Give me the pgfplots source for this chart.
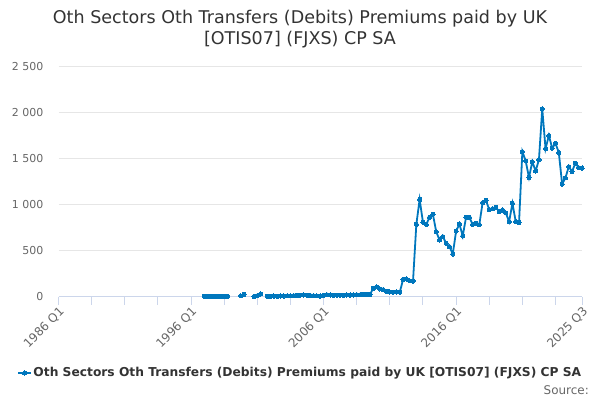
\documentclass[border=0pt]{standalone}
\usepackage{fontspec}
\setmainfont{DejaVu Sans}
\usepackage{pgfplots}
\pgfplotsset{compat=1.18}
\definecolor{series}{RGB}{0,119,189}
\definecolor{axiscol}{RGB}{204,214,235}
\definecolor{gridcol}{RGB}{230,230,230}
\definecolor{labcol}{RGB}{102,102,102}
\definecolor{titlecol}{RGB}{51,51,51}
\pgfplotstableread{
n v
44 8
45 6
46 7
47 6
48 8
49 7
50 6
51 8
52 nan
53 nan
54 nan
55 12
56 28
57 nan
58 nan
59 5
60 14
61 32
62 nan
63 8
64 9
65 10
66 8
67 10
68 11
69 12
70 12
71 15
72 18
73 20
74 22
75 20
76 16
77 14
78 12
79 10
80 18
81 25
82 22
83 18
84 20
85 19
86 20
87 22
88 21
89 22
90 25
91 24
92 28
93 30
94 26
95 95
96 110
97 88
98 80
99 60
100 55
101 52
102 55
103 52
104 190
105 195
106 175
107 174
108 790
109 1060
110 812
111 790
112 866
113 899
114 710
115 620
116 656
117 583
118 547
119 467
120 717
121 793
122 663
123 866
124 866
125 790
126 800
127 785
128 1025
129 1050
130 950
131 960
132 975
133 930
134 945
135 915
136 818
137 1018
138 820
139 810
140 1580
141 1480
142 1300
143 1470
144 1370
145 1490
146 2045
147 1612
148 1755
149 1618
150 1670
151 1570
152 1228
153 1295
154 1416
155 1365
156 1455
157 1405
158 1402
}\datatable
\begin{document}
\begin{tikzpicture}
\path[use as bounding box] (0bp,0bp) rectangle (600bp,400bp);
\begin{axis}[
  at={(58.5bp,103bp)}, anchor=south west,
  scale only axis, width=523.5bp, height=230bp,
  xmin=0, xmax=158, ymin=0, ymax=2500,
  axis x line*=bottom, axis y line*=left,
  x axis line style={draw=axiscol, line width=1bp, -},
  y axis line style={draw=none, -},
  xtick={0,40,80,120,158},
  xticklabels={1986 Q1,1996 Q1,2006 Q1,2016 Q1,2025 Q3},
  minor xtick={10,20,30,50,60,70,90,100,110,130,140,150},
  ytick={0,500,...,2500},
  yticklabels={0,500,1 000,1 500,2 000,2 500},
  ymajorgrids, grid style={draw=gridcol, line width=1bp},
  tick align=outside, major tick length=8bp, minor tick length=8bp,
  xtick style={draw=axiscol, line width=1bp},
  minor x tick style={draw=axiscol, line width=1bp},
  ytick style={draw=none},
  xticklabel style={font=\fontsize{12}{14}\selectfont, text=labcol, rotate=45, anchor=north east, inner sep=0.5bp},
  yticklabel style={font=\fontsize{11}{13}\selectfont, text=labcol, anchor=east, inner sep=0bp, xshift=-7bp},
  unbounded coords=jump,
  clip=false,
  legend style={at={(-0.0793,-0.3304)}, anchor=west, draw=none, fill=none, inner sep=0pt,
    font=\bfseries\fontsize{12.3}{15}\selectfont, text=titlecol,
    nodes={inner sep=1.5bp}},
  legend cell align=left,
  legend image code/.code={\draw[mark repeat=2,mark phase=2,#1] plot coordinates {(0bp,0bp) (6.5bp,0bp) (13bp,0bp)};},
]
\addplot[color=series, line width=1.8bp, mark=*, mark size=2.1bp, mark options={solid, line width=0bp}] table[x=n, y=v] {\datatable};
\addlegendentry{Oth Sectors Oth Transfers (Debits) Premiums paid by UK [OTIS07] (FJXS) CP SA}
\end{axis}
\node[font=\fontsize{17.6}{21}\selectfont, text=titlecol, anchor=base] at (300bp,376.7bp) {Oth Sectors Oth Transfers (Debits) Premiums paid by UK};
\node[font=\fontsize{17.6}{21}\selectfont, text=titlecol, anchor=base] at (300bp,355.5bp) {[OTIS07] (FJXS) CP SA};
\node[font=\fontsize{12}{14}\selectfont, text=labcol, anchor=base east, inner sep=0pt] at (589bp,6bp) {Source:};
\end{tikzpicture}
\end{document}
